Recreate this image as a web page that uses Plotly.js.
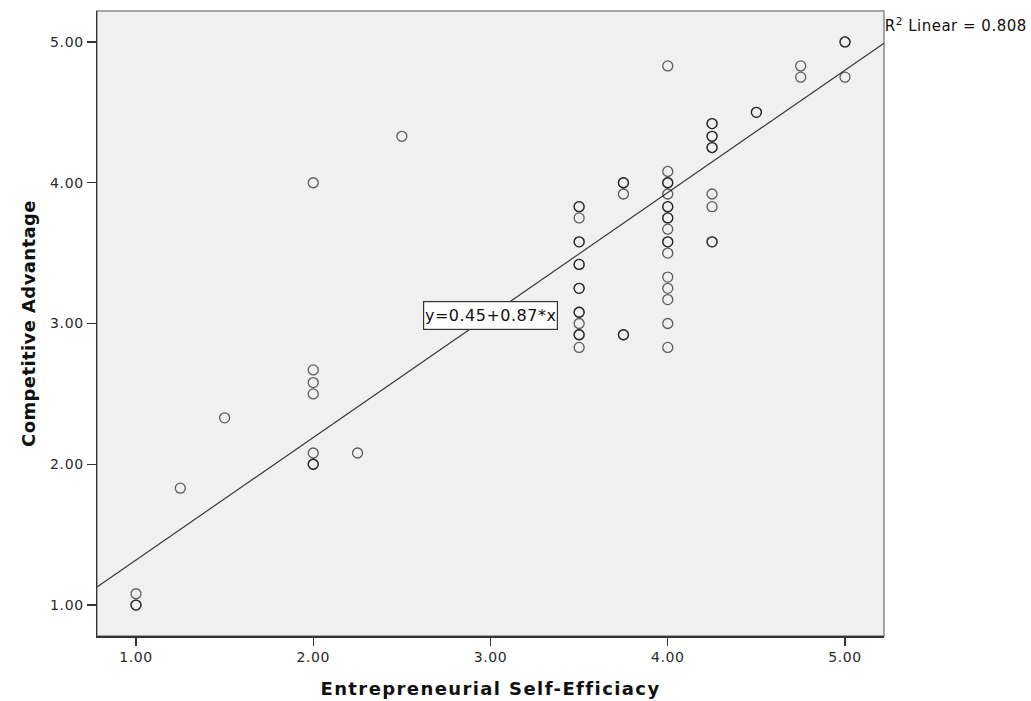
<!DOCTYPE html>
<html>
<head>
<meta charset="utf-8">
<script src="https://cdn.plot.ly/plotly-3.0.1.min.js"></script>
<style>
html,body{margin:0;padding:0;background:#fff;}
#chart{width:1031px;height:701px;}
#chart .xtick text, #chart .ytick text{letter-spacing:0.6px;}
#chart .xtitle{letter-spacing:1.4px;}
#chart .ytitle{letter-spacing:0.4px;}
#chart .annotation-text{letter-spacing:0.5px;}
</style>
</head>
<body>
<div id="chart"></div>
<script>
// Entrepreneurial Self-Efficacy (x) and Competitive Advantage (y); duplicates = overlapping cases
const selfEfficacy = [
  1.00, 1.00, 1.00,
  1.25,
  1.50,
  2.00, 2.00, 2.00, 2.00, 2.00, 2.00, 2.00,
  2.25,
  2.50,
  3.50, 3.50, 3.50, 3.50, 3.50, 3.50, 3.50, 3.50, 3.50, 3.50, 3.50, 3.50, 3.50, 3.50, 3.50,
  3.75, 3.75, 3.75, 3.75, 3.75,
  4.00, 4.00, 4.00, 4.00, 4.00, 4.00, 4.00, 4.00, 4.00, 4.00, 4.00, 4.00, 4.00, 4.00, 4.00, 4.00, 4.00, 4.00,
  4.25, 4.25, 4.25, 4.25, 4.25, 4.25, 4.25, 4.25, 4.25, 4.25,
  4.50, 4.50,
  4.75, 4.75,
  5.00, 5.00, 5.00
];
const competitiveAdvantage = [
  1.00, 1.00, 1.08,
  1.83,
  2.33,
  4.00, 2.67, 2.58, 2.50, 2.08, 2.00, 2.00,
  2.08,
  4.33,
  3.83, 3.83, 3.75, 3.58, 3.58, 3.42, 3.42, 3.25, 3.25, 3.08, 3.08, 3.00, 2.92, 2.92, 2.83,
  4.00, 4.00, 3.92, 2.92, 2.92,
  4.83, 4.08, 4.00, 4.00, 3.92, 3.83, 3.83, 3.75, 3.75, 3.67, 3.58, 3.58, 3.50, 3.33, 3.25, 3.17, 3.00, 2.83,
  4.42, 4.42, 4.33, 4.33, 4.25, 4.25, 3.92, 3.83, 3.58, 3.58,
  4.50, 4.50,
  4.83, 4.75,
  5.00, 5.00, 4.75
];

const intercept = 0.45;
const slope = 0.87;
const r2 = 0.808;
const axisRange = [0.78, 5.22];
const tickVals = [1, 2, 3, 4, 5];
const tickText = ["1.00", "2.00", "3.00", "4.00", "5.00"];

const fitX = axisRange.slice();
const fitY = fitX.map(x => intercept + slope * x);

const font = "DejaVu Sans, Liberation Sans, Arial, sans-serif";

const traces = [
  {
    x: fitX, y: fitY, mode: "lines", type: "scatter",
    line: {color: "#3a3a3a", width: 1.2}, hoverinfo: "skip", showlegend: false
  },
  {
    x: selfEfficacy, y: competitiveAdvantage, mode: "markers", type: "scatter",
    marker: {symbol: "circle-open", size: 10, color: "rgba(0,0,0,0.62)", line: {width: 1.3, color: "rgba(0,0,0,0.62)"}},
    showlegend: false
  }
];

const layout = {
  width: 1031, height: 701,
  margin: {l: 97, r: 147, t: 11, b: 65},
  paper_bgcolor: "#ffffff",
  plot_bgcolor: "#f0f0f0",
  font: {family: font, color: "#222", size: 13},
  showlegend: false,
  xaxis: {
    range: axisRange, tickvals: tickVals, ticktext: tickText,
    ticks: "outside", ticklen: 8, tickwidth: 1.3, tickcolor: "#333",
    showgrid: false, zeroline: false,
    showline: true, linecolor: "#333", linewidth: 1.5,
    tickfont: {family: font, size: 14, color: "#2a2a2a"},
    title: {text: "Entrepreneurial Self-Efficiacy", font: {family: font, size: 18, color: "#111", weight: "bold"}, standoff: 18}
  },
  yaxis: {
    range: axisRange, tickvals: tickVals, ticktext: tickText,
    ticks: "outside", ticklen: 9, tickwidth: 1.3, tickcolor: "#333",
    showgrid: false, zeroline: false,
    showline: true, linecolor: "#333", linewidth: 1.5,
    tickfont: {family: font, size: 14, color: "#2a2a2a"},
    title: {text: "Competitive Advantage", font: {family: font, size: 18, color: "#111", weight: "bold"}, standoff: 12}
  },
  shapes: [
    {type: "rect", xref: "paper", yref: "paper", x0: 0, x1: 1, y0: 0, y1: 1,
     line: {color: "#8a8a8a", width: 1.5}, fillcolor: "rgba(0,0,0,0)", layer: "below"}
  ],
  annotations: [
    {xref: "paper", yref: "paper", x: 1.004, y: 0.978, xanchor: "left", yanchor: "middle",
     text: "R<sup>2</sup> Linear = " + r2.toFixed(3), showarrow: false,
     font: {family: font, size: 15, color: "#111"}},
    {xref: "x", yref: "y", x: 3.0, y: 3.06, xanchor: "center", yanchor: "middle",
     text: "y=" + intercept.toFixed(2) + "+" + slope.toFixed(2) + "*x", showarrow: false,
     bgcolor: "#ffffff", bordercolor: "#333", borderwidth: 1.2, borderpad: 4,
     font: {family: font, size: 16, color: "#111"}}
  ]
};

Plotly.newPlot("chart", traces, layout, {displayModeBar: false, staticPlot: true});
</script>
</body>
</html>
